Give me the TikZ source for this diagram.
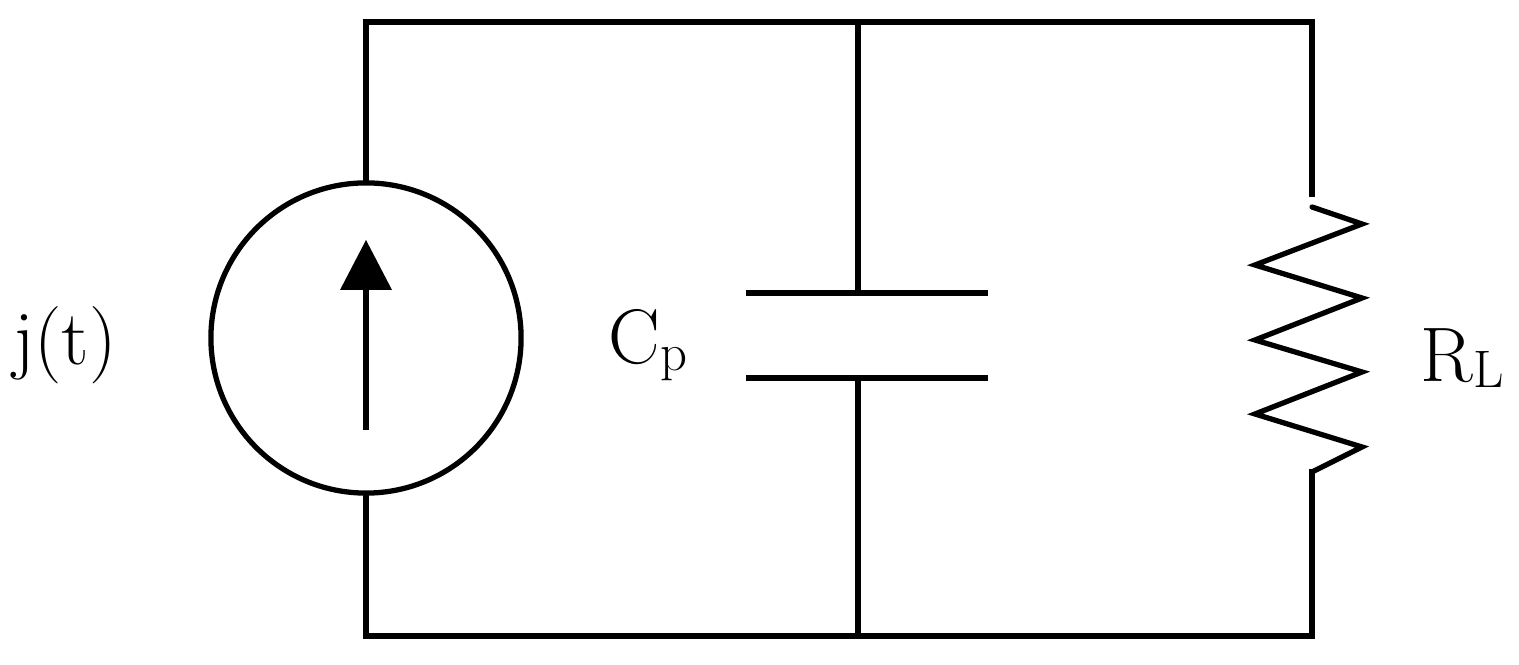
\documentclass[tikz,border=0pt]{standalone}
\begin{document}
\begin{tikzpicture}[x=0.01cm,y=-0.01cm,wire/.style={line width=1.5pt,line cap=rect},
  lbl/.style={font=\fontsize{22}{26}\selectfont,inner sep=0pt}]
\useasboundingbox (0,0) rectangle (1519,665);
\coordinate (tl) at (366,22); \coordinate (tm) at (858,22); \coordinate (tr) at (1312,22);
\coordinate (bl) at (366,636); \coordinate (bm) at (858,636); \coordinate (br) at (1312,636);
\node[circle,draw,line width=1.5pt,minimum size=3.1cm,inner sep=0pt] (src) at (366,338) {};
\coordinate (p1) at (858,293); \coordinate (p2) at (858,378);
\coordinate (r1) at (1312,194); \coordinate (r2) at (1312,472);
\draw[wire] (src.north) -- (tl) -- (tm) -- (tr) -- (r1);
\draw[wire] (src.south) -- (bl) -- (bm) -- (br) -- (r2);
\draw[wire] (tm) -- (p1); \draw[wire] (bm) -- (p2);
\draw[wire] (749,293) -- (985,293);
\draw[wire] (749,378) -- (985,378);
\draw[line width=1.5pt,line join=miter,line cap=round] (1312,207) -- (1362,224) -- (1255,265) -- (1362,298) -- (1255,340) -- (1362,372) -- (1255,414) -- (1362,447) -- (r2);
\draw[line width=1.5pt] (366,430) -- (366,285);
\fill (366,240) -- (392,290) -- (340,290) -- cycle;
\node[lbl] (j) at (65,345) {j(t)};
\node[lbl] (c) at (648,345) {C\raisebox{-0.2ex}{\fontsize{15}{18}\selectfont p}};
\node[lbl] (r) at (1462,358) {R\raisebox{-0.2ex}{\fontsize{15}{18}\selectfont L}};
\end{tikzpicture}
\end{document}
